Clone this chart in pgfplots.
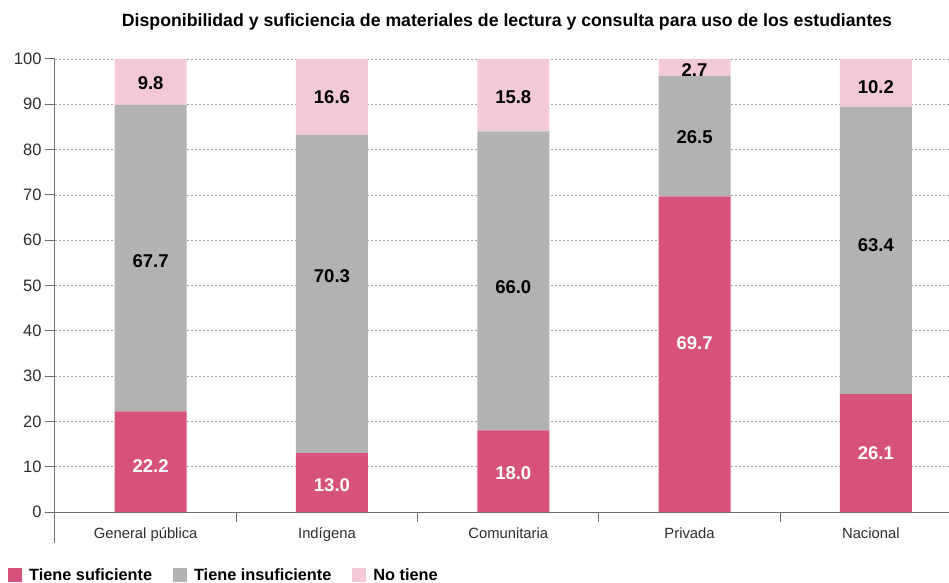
\documentclass[border=0pt]{standalone}
\usepackage{fontspec}
\setmainfont{Liberation Sans}
\usepackage{pgfplots}
\pgfplotsset{compat=1.18}
\usepackage{pgfplotstable}
\definecolor{suf}{RGB}{214,82,122}
\definecolor{insuf}{RGB}{178,178,178}
\definecolor{notiene}{RGB}{243,201,214}
\definecolor{axisgray}{RGB}{110,110,110}
\definecolor{gridgray}{RGB}{165,165,165}
\definecolor{ticktext}{RGB}{45,45,45}

% drawn heights of the segments
\pgfplotstableread{
x suf insuf no
0 22.2 67.7 10.1
1 13.0 70.3 16.7
2 18.0 66.0 16.0
3 69.7 26.5 3.8
4 26.1 63.4 10.5
}\bars
% label positions and printed values
\pgfplotstableread{
x ysuf lsuf yins lins yno lno
0 10.2 22.2 55.3 67.7 94.6 9.8
1 6.0 13.0 52.1 70.3 91.5 16.6
2 8.5 18.0 49.6 66.0 91.5 15.8
3 37.3 69.7 82.8 26.5 97.6 2.7
4 13.1 26.1 58.8 63.4 93.8 10.2
}\labels

\begin{document}
\begin{tikzpicture}
\useasboundingbox (-55pt,-70pt) rectangle (894pt,512pt);
\pgfplotsset{common/.style={width=894pt,height=453pt,scale only axis,
  xmin=-0.5,xmax=4.431,ymin=0,ymax=100}}
\begin{axis}[common, at={(0pt,0pt)}, anchor=south west,
  ybar stacked, bar width=72pt, bar shift=5pt,
  axis x line*=bottom, axis y line*=left,
  axis line style={-, draw=axisgray, line width=1pt},
  tick align=outside, major tick length=10pt,
  tick style={draw=axisgray, line width=1pt},
  ytick={0,10,...,100},
  ymajorgrids,
  grid style={dash pattern=on 2pt off 2pt, draw=gridgray, line width=0.8pt},
  xtick={0.5,1.5,2.5,3.5}, xticklabels={},
  extra x ticks={0,1,2,3,4},
  extra x tick labels={General pública,Indígena,Comunitaria,Privada,Nacional},
  extra x tick style={major tick length=0pt, grid=none},
  /pgf/number format/assume math mode=true,
  yticklabel style={font=\fontsize{16.5}{18}\selectfont, text=ticktext},
  xticklabel style={font=\fontsize{14.8}{17}\selectfont, text=ticktext, yshift=-12pt},
  legend style={at={(-0.0526,-0.139)}, anchor=west, draw=none, fill=none,
    inner sep=0pt, legend columns=-1,
    font=\fontsize{16.3}{18}\selectfont\bfseries,
    /tikz/every even column/.append style={column sep=19pt}},
  legend image code/.code={\fill[#1,draw=none] (0pt,-7pt) rectangle (14pt,7pt);
    \path (14pt,0pt) -- (19pt,0pt);},
  clip=false,
]
\addplot[fill=suf, draw=none] table[x=x,y=suf]{\bars};
\addlegendentry{Tiene suficiente}
\addplot[fill=insuf, draw=none] table[x=x,y=insuf]{\bars};
\addlegendentry{Tiene insuficiente}
\addplot[fill=notiene, draw=none] table[x=x,y=no]{\bars};
\addlegendentry{No tiene}
\draw[axisgray, line width=1pt] (rel axis cs:0,0) -- ++(0pt,-31pt);
\end{axis}
\begin{axis}[common, at={(0pt,0pt)}, anchor=south west, hide axis, clip=false,
  point meta=explicit symbolic,
  nodes near coords, nodes near coords align=center,
  every node near coord/.append style={font=\fontsize{18.5}{20}\selectfont\bfseries, inner sep=0pt, xshift=5pt},
]
\addplot[only marks, mark=*, mark size=0pt, mark options={draw=none,fill=none},
  every node near coord/.append style={text=white}]
  table[x=x,y=ysuf,meta=lsuf]{\labels};
\addplot[only marks, mark=*, mark size=0pt, mark options={draw=none,fill=none},
  every node near coord/.append style={text=black}]
  table[x=x,y=yins,meta=lins]{\labels};
\addplot[only marks, mark=*, mark size=0pt, mark options={draw=none,fill=none},
  every node near coord/.append style={text=black}]
  table[x=x,y=yno,meta=lno]{\labels};
\end{axis}
\node[font=\fontsize{17.7}{20}\selectfont\bfseries] at (452pt,490pt)
  {Disponibilidad y suficiencia de materiales de lectura y consulta para uso de los estudiantes};
\end{tikzpicture}
\end{document}
